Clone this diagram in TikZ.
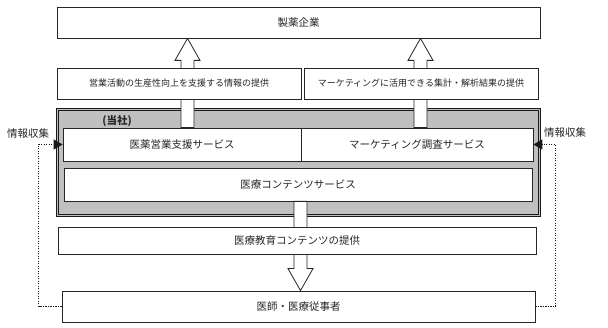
\documentclass[tikz,border=0pt]{standalone}
\usepackage{fontspec}
\setmainfont{Noto Sans CJK JP}
\usetikzlibrary{arrows.meta,calc}

\definecolor{firmgray}{HTML}{C0C0C0}
\tikzset{
  box/.style={draw=black!85, line width=0.8pt, fill=white, inner sep=0pt,
    text=black!85, font=\fontsize{10.5}{12}\selectfont},
  infobox/.style={box, font=\fontsize{9}{11}\selectfont},
  bigarrow/.style={draw=black!85, line width=0.8pt, fill=white},
  infoline/.style={draw=black!90, line width=1.5pt, dash pattern=on 1.3pt off 1.2pt,
    -{Triangle[length=9pt,width=10pt]}},
}
% hollow block arrow from #1 to its tip #2
\newcommand{\blockarrow}[2]{%
  \draw[bigarrow] let \p1=#1, \p2=#2, \p3=($#2!22pt!#1$) in
    (\x1-6.5pt,\y1) -- (\x1-6.5pt,\y3) -- (\x1-12.5pt,\y3) -- (\x2,\y2)
    -- (\x1+12.5pt,\y3) -- (\x1+6.5pt,\y3) -- (\x1+6.5pt,\y1) -- cycle;}

\begin{document}
\begin{tikzpicture}[x=1pt,y=-1pt]
\useasboundingbox (0,0) rectangle (608,328);

% Pharma companies
\node[box, minimum width=483pt, minimum height=31pt] (pharma) at (298.5,22.5) {製薬企業};

% Our company
\node[draw=black!90, line width=1pt, double=firmgray, double distance=1.4pt,
  fill=firmgray, minimum width=482pt, minimum height=106pt] (firm) at (298.5,162.5) {};
\node[text=black!85, font=\fontsize{10.5}{12}\selectfont\bfseries] (firmlabel) at (117,121) {(当社)};
\node[box, minimum width=238pt, minimum height=33pt] (sales) at (182,144.5) {医薬営業支援サービス};
\node[box, minimum width=232pt, minimum height=33pt] (market) at (417,144.5) {マーケティング調査サービス};
\node[box, minimum width=468pt, minimum height=33pt] (contents) at (298,184.5) {医療コンテンツサービス};

% Doctors
\node[box, minimum width=473pt, minimum height=31pt] (doctors) at (298.5,306.5) {医師・医療従事者};

% Block arrows
\blockarrow{(sales.north -| 187.5,0)}{(pharma.south -| 187.5,0)}
\blockarrow{(market.north -| 420.5,0)}{(pharma.south -| 420.5,0)}
\blockarrow{(contents.south -| 300.5,0)}{(doctors.north -| 300.5,0)}

% What is provided
\node[infobox, minimum width=244pt, minimum height=31pt] (supportinfo) at (179,83.5) {営業活動の生産性向上を支援する情報の提供};
\node[infobox, minimum width=234pt, minimum height=31pt] (analysis) at (421,83.5) {マーケティングに活用できる集計・解析結果の提供};
\node[box, minimum width=478pt, minimum height=27pt] (education) at (297,240.5) {医療教育コンテンツの提供};

% Information gathering
\node[text=black!85, font=\fontsize{10.5}{12}\selectfont] (leftlabel) at (28,134) {情報収集};
\node[text=black!85, font=\fontsize{10.5}{12}\selectfont] (rightlabel) at (565,133) {情報収集};
\draw[infoline] (doctors.west) -- ++(-23,0) |- (sales.west);
\draw[infoline] (doctors.east) -- ++(20,0) |- (market.east);

\end{tikzpicture}
\end{document}
